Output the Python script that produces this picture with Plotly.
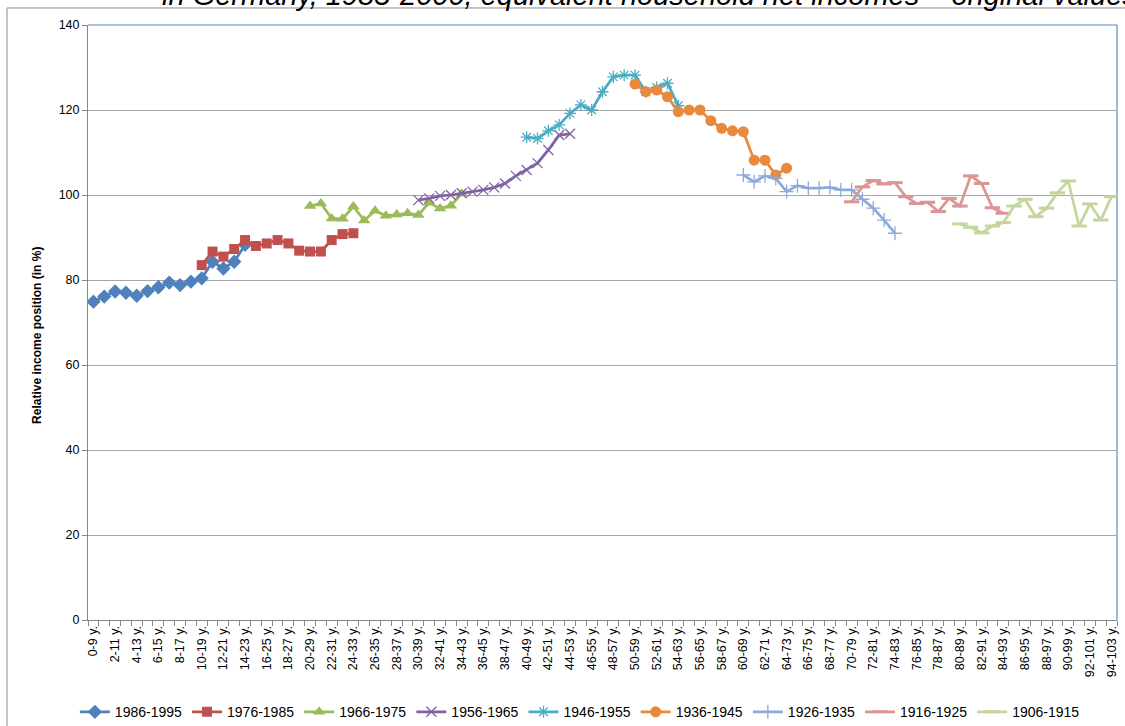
import plotly.graph_objects as go

# Age-group categories along the x axis (0-9 y. ... 94-103 y.)
AGE_GROUPS = [f"{a}-{a + 9} y." for a in range(95)]
TICK_LABELS = AGE_GROUPS[::2]

# Relative income position (in %) of each birth cohort; each cohort starts at its first age group
COHORTS = ["1986-1995", "1976-1985", "1966-1975", "1956-1965", "1946-1955",
           "1936-1945", "1926-1935", "1916-1925", "1906-1915"]
FIRST_GROUP = ["0-9 y.", "10-19 y.", "20-29 y.", "30-39 y.", "40-49 y.",
               "50-59 y.", "60-69 y.", "70-79 y.", "80-89 y."]

c1986_1995 = [74.9, 76.1, 77.3, 77.0, 76.3, 77.4, 78.3, 79.4, 78.8, 79.6, 80.4, 84.3, 82.7, 84.3, 88.3]
c1976_1985 = [83.5, 86.7, 85.5, 87.3, 89.4, 88.0, 88.6, 89.4, 88.6, 86.9, 86.7, 86.7, 89.4, 90.8, 91.0]
c1966_1975 = [97.4, 98.0, 94.5, 94.4, 97.3, 94.0, 96.3, 95.1, 95.4, 95.7, 95.3, 98.2, 96.8, 97.5, 100.3]
c1956_1965 = [98.8, 99.2, 99.8, 100.0, 100.4, 100.8, 101.2, 101.8, 102.7, 104.5, 105.9, 107.5, 110.6, 114.1, 114.4]
c1946_1955 = [113.6, 113.3, 115.1, 116.5, 119.2, 121.2, 120.0, 124.3, 127.8, 128.2, 128.2, 124.3, 125.3, 126.3, 121.0]
c1936_1945 = [126.1, 124.3, 124.7, 123.1, 119.6, 120.0, 120.0, 117.5, 115.7, 115.1, 114.9, 108.2, 108.2, 104.7, 106.3]
c1926_1935 = [104.7, 103.1, 104.5, 103.9, 100.8, 102.2, 101.6, 101.6, 101.8, 101.2, 101.2, 99.0, 96.9, 94.1, 91.0]
c1916_1925 = [98.4, 101.9, 103.4, 102.6, 102.9, 99.6, 98.0, 98.3, 96.1, 99.2, 97.4, 104.5, 102.7, 97.0, 95.7]
c1906_1915 = [93.2, 92.4, 91.1, 92.7, 93.5, 97.4, 99.0, 94.9, 96.9, 100.5, 103.3, 92.7, 97.9, 94.1, 99.6]

SERIES = [c1986_1995, c1976_1985, c1966_1975, c1956_1965, c1946_1955,
          c1936_1945, c1926_1935, c1916_1925, c1906_1915]

COLORS = ["#4F81BD", "#C0504D", "#9BBB59", "#8064A2", "#4BACC6",
          "#E8893C", "#8FAADA", "#D99694", "#C3D69B"]
SYMBOLS = ["diamond", "square", "triangle-up", "x-thin-open", "asterisk-open",
           "circle", "cross-thin-open", "line-ew-open", "line-ew-open"]
SIZES = [11, 10, 11, 10, 10, 11, 10, 11, 11]
MARKER_LINE = [0, 0, 0, 1.3, 1.3, 0, 1.3, 3, 3]

pos = {g: i for i, g in enumerate(AGE_GROUPS)}

fig = go.Figure()
for name, first, vals, col, sym, sz, mlw in zip(COHORTS, FIRST_GROUP, SERIES, COLORS,
                                               SYMBOLS, SIZES, MARKER_LINE):
    start = pos[first]
    groups = AGE_GROUPS[start:start + len(vals)]
    fig.add_trace(go.Scatter(
        x=[pos[g] for g in groups], y=vals, name=name,
        customdata=groups, hovertemplate="%{customdata}: %{y}<extra>" + name + "</extra>",
        mode="lines+markers",
        line=dict(color=col, width=2.75),
        marker=dict(symbol=sym, size=sz, color=col, line=dict(width=mlw, color=col)),
    ))

axis_grey = "#868686"
fig.update_layout(
    width=1125, height=726,
    margin=dict(l=88, r=8, t=25, b=106, autoexpand=False),
    paper_bgcolor="white", plot_bgcolor="white",
    font=dict(family="Liberation Sans, Arial, sans-serif", color="black", size=12),
    showlegend=True,
    legend=dict(orientation="h", x=0.478, xanchor="center", y=-0.155, yanchor="middle",
                font=dict(size=14), itemwidth=30, tracegroupgap=0),
    xaxis=dict(
        range=[-0.5, len(AGE_GROUPS) - 0.5], automargin=False,
        tickmode="array", tickvals=[pos[t] for t in TICK_LABELS], ticktext=TICK_LABELS,
        tickangle=-90, ticks="", tickfont=dict(size=12.5),
        showgrid=False, zeroline=False,
        showline=True, linecolor=axis_grey, linewidth=1,
        minor=dict(tickmode="array", tickvals=[i - 0.5 for i in range(len(AGE_GROUPS) + 1)],
                   ticks="outside", ticklen=5, tickcolor=axis_grey, showgrid=False),
    ),
    yaxis=dict(
        range=[0, 140], tickmode="linear", tick0=0, dtick=20, automargin=False,
        ticks="outside", ticklen=5, tickcolor=axis_grey, tickfont=dict(size=12.5),
        showgrid=True, gridcolor="#A6A6A6", gridwidth=1,
        zeroline=False, showline=True, linecolor=axis_grey, linewidth=1,
    ),
    shapes=[
        # outer chart frame
        dict(type="rect", xref="paper", yref="paper", x0=-0.0787, x1=1.2, y0=-0.3, y1=1.0286,
             line=dict(color="#8C8C8C", width=1), layer="below"),
        # plot-area outline (top and right)
        dict(type="line", xref="paper", yref="paper", x0=0, x1=1, y0=1, y1=1,
             line=dict(color="#5B86C5", width=1.2), layer="below"),
        dict(type="line", xref="paper", yref="paper", x0=1, x1=1, y0=0, y1=1,
             line=dict(color="#5B86C5", width=1.2), layer="below"),
    ],
    annotations=[
        dict(text="<b>Relative income position (in %)</b>", xref="paper", yref="paper",
             x=-0.0496, y=0.479, textangle=-90, showarrow=False,
             font=dict(size=12), xanchor="center", yanchor="middle"),
        dict(text="<i>in Germany, 1985-2000, equivalent household net incomes \u2013 original values</i>",
             xref="paper", yref="paper", x=0.07, y=1.0497, xanchor="left", yanchor="middle",
             showarrow=False, font=dict(size=29)),
    ],
)

fig.write_html("out.html")
